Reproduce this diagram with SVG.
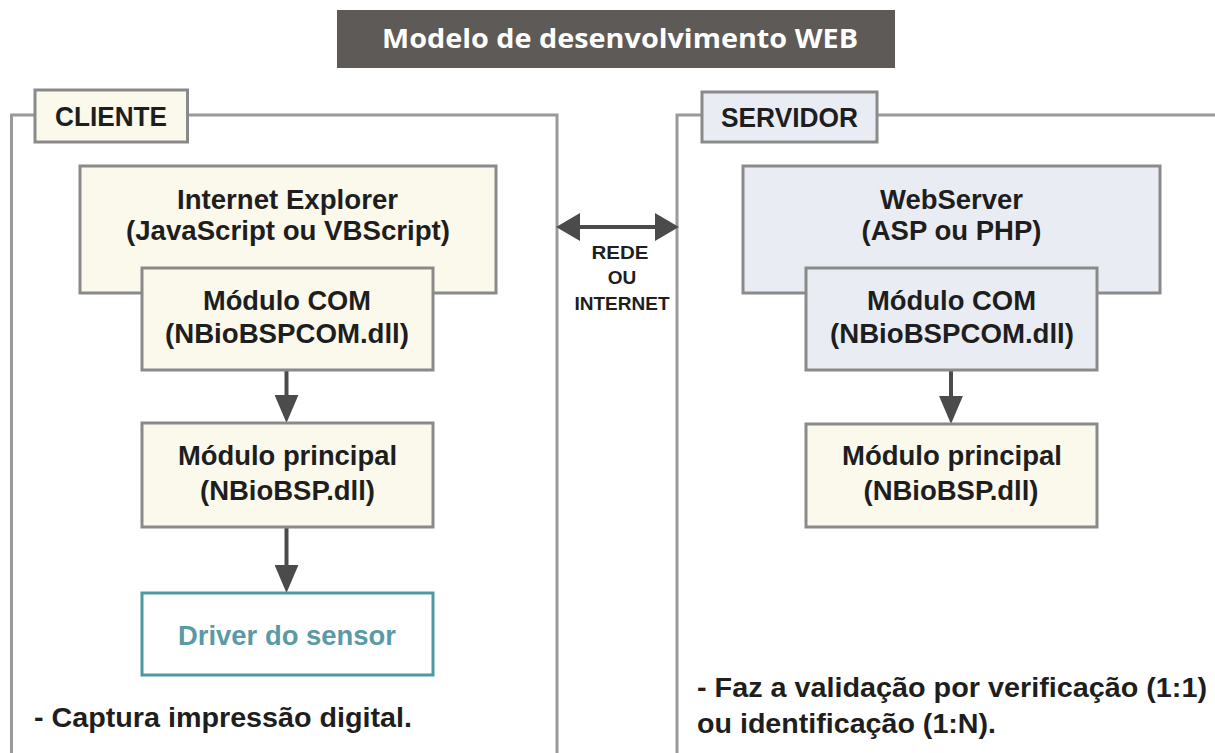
<svg xmlns="http://www.w3.org/2000/svg" width="1215" height="753" viewBox="0 0 1215 753">
<style>
.frame{fill:none;stroke:#9a9a9a;stroke-width:3}
.box{stroke:#8a8a8a;stroke-width:3}
.cream{fill:#fbf8ec}
.blue{fill:#e9edf3}
.t{font-family:"Liberation Sans",Arial,sans-serif;font-weight:bold;font-size:27px;fill:#1e1e1e;text-anchor:middle}
.l{font-family:"Liberation Sans",Arial,sans-serif;font-weight:bold;font-size:27px;fill:#1e1e1e}
.net{font-family:"Liberation Sans",Arial,sans-serif;font-weight:bold;font-size:19px;fill:#1e1e1e;text-anchor:middle}
.conn{stroke:#4b4b4b;stroke-width:4;fill:none}
</style>
<defs>
<marker id="av" markerUnits="userSpaceOnUse" markerWidth="28" markerHeight="24" refX="0" refY="11.5" orient="auto-start-reverse" viewBox="0 0 27 23"><path d="M0,0 L27,11.5 L0,23 z" fill="#4b4b4b"/></marker>
<marker id="ah" markerUnits="userSpaceOnUse" markerWidth="24" markerHeight="28" refX="0" refY="13.5" orient="auto-start-reverse" viewBox="0 0 23 27"><path d="M0,0 L23,13.5 L0,27 z" fill="#4b4b4b"/></marker>
</defs>
<rect width="1215" height="753" fill="#ffffff"/>

<g id="title">
<rect x="337" y="10" width="558" height="58" fill="#5e5a57"/>
<text x="620" y="48" font-family="'Open Sans','Liberation Sans',sans-serif" font-weight="bold" font-size="27" fill="#ffffff" text-anchor="middle" textLength="476" lengthAdjust="spacingAndGlyphs">Modelo de desenvolvimento WEB</text>
</g>

<g id="cliente-frame">
<path class="frame" d="M11.5,760 V115 H557 V760"/>
<rect class="box cream" x="35" y="90" width="152.5" height="52"/>
<text class="l" x="111" y="126" text-anchor="middle" textLength="112" lengthAdjust="spacingAndGlyphs">CLIENTE</text>
</g>

<g id="servidor-frame">
<path class="frame" d="M677,760 V115 H1220"/>
<rect class="box blue" x="702" y="92" width="175" height="50"/>
<text class="l" x="789.5" y="127" text-anchor="middle" textLength="137" lengthAdjust="spacingAndGlyphs">SERVIDOR</text>
</g>

<g id="connectors">
<line class="conn" x1="286.5" y1="370" x2="286.5" y2="395" marker-end="url(#av)"/>
<line class="conn" x1="286.5" y1="527" x2="286.5" y2="565" marker-end="url(#av)"/>
<line class="conn" x1="951" y1="370" x2="951" y2="396" marker-end="url(#av)"/>
<line class="conn" x1="580" y1="227" x2="655" y2="227" marker-start="url(#ah)" marker-end="url(#ah)"/>
<text class="net" x="620" y="259" textLength="57" lengthAdjust="spacingAndGlyphs">REDE</text>
<text class="net" x="622" y="284">OU</text>
<text class="net" x="622" y="310" textLength="95" lengthAdjust="spacingAndGlyphs">INTERNET</text>
</g>

<g id="internet-explorer">
<rect class="box cream" x="80" y="166" width="416" height="127"/>
<text class="t" x="287.5" y="209" textLength="221" lengthAdjust="spacingAndGlyphs">Internet Explorer</text>
<text class="t" x="288" y="240" textLength="324" lengthAdjust="spacingAndGlyphs">(JavaScript ou VBScript)</text>
</g>

<g id="cliente-com">
<rect class="box cream" x="142" y="268" width="291" height="102"/>
<text class="t" x="287" y="310" textLength="168" lengthAdjust="spacingAndGlyphs">Módulo COM</text>
<text class="t" x="287" y="343" textLength="244" lengthAdjust="spacingAndGlyphs">(NBioBSPCOM.dll)</text>
</g>

<g id="cliente-principal">
<rect class="box cream" x="142" y="423" width="291" height="104"/>
<text class="t" x="287.5" y="465" textLength="219" lengthAdjust="spacingAndGlyphs">Módulo principal</text>
<text class="t" x="287.5" y="500" textLength="175" lengthAdjust="spacingAndGlyphs">(NBioBSP.dll)</text>
</g>

<g id="driver">
<rect x="142" y="593" width="291" height="82" fill="#ffffff" stroke="#4d99a3" stroke-width="3"/>
<text class="t" x="287" y="645" style="fill:#5a9aa4" textLength="218" lengthAdjust="spacingAndGlyphs">Driver do sensor</text>
</g>

<g id="cliente-nota">
<text class="l" x="34" y="727" textLength="378" lengthAdjust="spacingAndGlyphs">- Captura impressão digital.</text>
</g>

<g id="webserver">
<rect class="box blue" x="743" y="166" width="417" height="127"/>
<text class="t" x="951.5" y="209" textLength="143" lengthAdjust="spacingAndGlyphs">WebServer</text>
<text class="t" x="951.5" y="240" textLength="180" lengthAdjust="spacingAndGlyphs">(ASP ou PHP)</text>
</g>

<g id="servidor-com">
<rect class="box blue" x="806" y="268" width="291" height="102"/>
<text class="t" x="951.5" y="310" textLength="169" lengthAdjust="spacingAndGlyphs">Módulo COM</text>
<text class="t" x="952" y="343" textLength="244" lengthAdjust="spacingAndGlyphs">(NBioBSPCOM.dll)</text>
</g>

<g id="servidor-principal">
<rect class="box cream" x="806" y="424" width="291" height="103"/>
<text class="t" x="952" y="465" textLength="220" lengthAdjust="spacingAndGlyphs">Módulo principal</text>
<text class="t" x="951" y="500" textLength="175" lengthAdjust="spacingAndGlyphs">(NBioBSP.dll)</text>
</g>

<g id="servidor-nota">
<text class="l" x="697" y="697" textLength="510" lengthAdjust="spacingAndGlyphs">- Faz a validação por verificação (1:1)</text>
<text class="l" x="697" y="733" textLength="299" lengthAdjust="spacingAndGlyphs">ou identificação (1:N).</text>
</g>
</svg>
